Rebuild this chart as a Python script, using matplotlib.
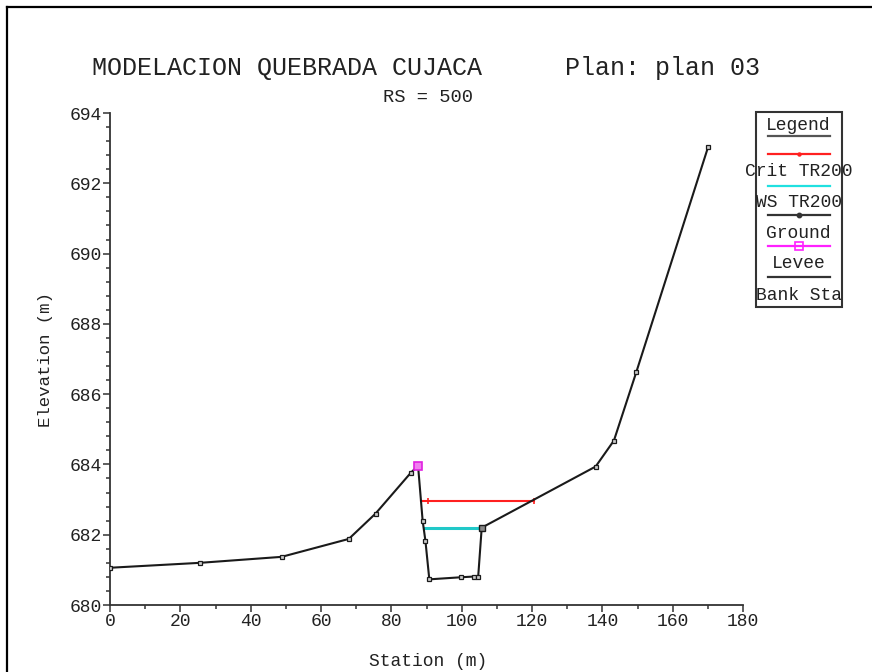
import matplotlib
matplotlib.use("Agg")
import matplotlib.pyplot as plt
from matplotlib.lines import Line2D
from matplotlib.patches import Rectangle
from matplotlib.ticker import MultipleLocator

plt.rcParams["font.family"] = ["Liberation Mono", "DejaVu Sans Mono"]

# ---- data ----
ground_x = [0, 25.6, 48.8, 67.9, 75.5, 85.6, 87.6, 88.9, 89.7, 90.8, 99.9,
            103.5, 104.7, 105.7, 138.1, 143.3, 149.7, 170.1]
ground_y = [681.06, 681.20, 681.37, 681.88, 682.60, 683.77, 683.96, 682.40,
            681.82, 680.73, 680.79, 680.81, 680.81, 682.20, 683.94, 684.68,
            686.64, 693.04]
crit_x = [88.4, 120.5]
crit_y = [682.97, 682.97]
crit_mark_x = [90.5, 120.5]
ws_x = [89.2, 105.7]
ws_y = [682.20, 682.20]
levee_x = [87.6]
levee_y = [683.96]
bank_x = [105.7]
bank_y = [682.20]

title_left = "MODELACION QUEBRADA CUJACA"
title_right = "Plan: plan 03"
subtitle = "RS = 500"
xlabel = "Station (m)"
ylabel = "Elevation (m)"
legend_labels = ["Crit TR200", "WS TR200", "Ground", "Levee", "Bank Sta"]

W, H = 872, 672
fig = plt.figure(figsize=(W / 100, H / 100), dpi=100)
fig.patch.set_facecolor("white")

txt = "#222222"

ax = fig.add_axes([110 / W, 1 - 605 / H, (743 - 110) / W, (605 - 113) / H])
ax.set_xlim(0, 180)
ax.set_ylim(680, 694)
for s in ["top", "right"]:
    ax.spines[s].set_visible(False)
for s in ["left", "bottom"]:
    ax.spines[s].set_linewidth(1.3)
    ax.spines[s].set_color("#333333")
ax.xaxis.set_major_locator(MultipleLocator(20))
ax.xaxis.set_minor_locator(MultipleLocator(10))
ax.yaxis.set_major_locator(MultipleLocator(2))
ax.yaxis.set_minor_locator(MultipleLocator(0.4))
ax.tick_params(which="major", length=5, width=1.1, color="#333333",
               labelsize=13, labelcolor=txt, pad=1)
ax.tick_params(which="minor", length=3, width=1.1, color="#333333")
ax.set_yticklabels([f"{int(v)}" for v in ax.get_yticks()])

# water surfaces
ax.plot(crit_x, crit_y, color="#ff2020", lw=1.5, zorder=3)
ax.plot(crit_mark_x, crit_y, ls="none", marker="|", ms=5, mew=1.2,
        color="#ff2020", zorder=3)
ax.plot(ws_x, ws_y, color="#20c8c8", lw=2.2, zorder=3)
# ground
ax.plot(ground_x, ground_y, color="#1a1a1a", lw=1.5, marker="s", ms=3.5,
        mfc="#cccccc", mec="#1a1a1a", mew=0.9, zorder=4)
# bank station
ax.plot(bank_x, bank_y, ls="none", marker="s", ms=5, mfc="#888888",
        mec="#1a1a1a", mew=1, zorder=5)
# levee
ax.plot(levee_x, levee_y, ls="none", marker="s", ms=6, mfc="#f080f0",
        mec="#e020e0", mew=1.2, zorder=6)

ax.set_xlabel(xlabel, fontsize=13, color=txt, labelpad=0, va="center")
ax.xaxis.set_label_coords((428 - 110) / (743 - 110), -(661 - 605) / (605 - 113))
ax.set_ylabel(ylabel, fontsize=12.5, color=txt, va="center")
ax.yaxis.set_label_coords(-(110 - 45) / (743 - 110), (605 - 360) / (605 - 113))

# titles
fig.text(92 / W, 1 - 68 / H, title_left, fontsize=18, color=txt,
         ha="left", va="center")
fig.text(565 / W, 1 - 68 / H, title_right, fontsize=18, color=txt,
         ha="left", va="center")
fig.text(428 / W, 1 - 97 / H, subtitle, fontsize=13.5, color=txt,
         ha="center", va="center")

# figure frame (left and top edges)
fig.add_artist(Line2D([7 / W, 7 / W], [0, 1 - 7 / H], transform=fig.transFigure,
                      color="black", lw=1.6))
fig.add_artist(Line2D([7 / W, 1], [1 - 7 / H, 1 - 7 / H], transform=fig.transFigure,
                      color="black", lw=1.6))

# custom legend box (HEC-RAS style)
lx0, lx1, ly0, ly1 = 755, 842, 111, 308
lg = fig.add_axes([lx0 / W, 1 - ly1 / H, (lx1 - lx0) / W, (ly1 - ly0) / H])
lg.set_xlim(lx0, lx1)
lg.set_ylim(ly1, ly0)
lg.axis("off")
lg.add_patch(Rectangle((lx0 + 0.5, ly0 + 0.5), lx1 - lx0 - 1, ly1 - ly0 - 1,
                       fill=False, ec="#333333", lw=1.5, clip_on=False))
cx = 798.5
seg = [768, 830]
lg.text(cx, 125, "Legend", fontsize=13, color=txt, ha="center", va="center")
lg.plot(seg, [136, 136], color="#555555", lw=1.6)
rows = [
    (154, "#ff2020", "o", 2, "#ff2020", legend_labels[0], 172),
    (186, "#20e0e0", None, 0, None, legend_labels[1], 203),
    (215, "#333333", "o", 3, "#333333", legend_labels[2], 234),
    (246, "#ff20ff", "s", 6, "#ff20ff", legend_labels[3], 264),
    (277, "#333333", None, 0, None, legend_labels[4], 296),
]
for yl, col, mk, ms, mc, lab, yt in rows:
    lg.plot(seg, [yl, yl], color=col, lw=1.6, clip_on=False)
    if mk:
        lg.plot([cx], [yl], marker=mk, ms=ms, color=mc,
                mfc="none" if mk == "s" else mc, mew=1.2, clip_on=False)
    lg.text(cx, yt, lab, fontsize=13, color=txt, ha="center", va="center",
            clip_on=False)

fig.savefig("out.png", dpi=100, facecolor="white")
